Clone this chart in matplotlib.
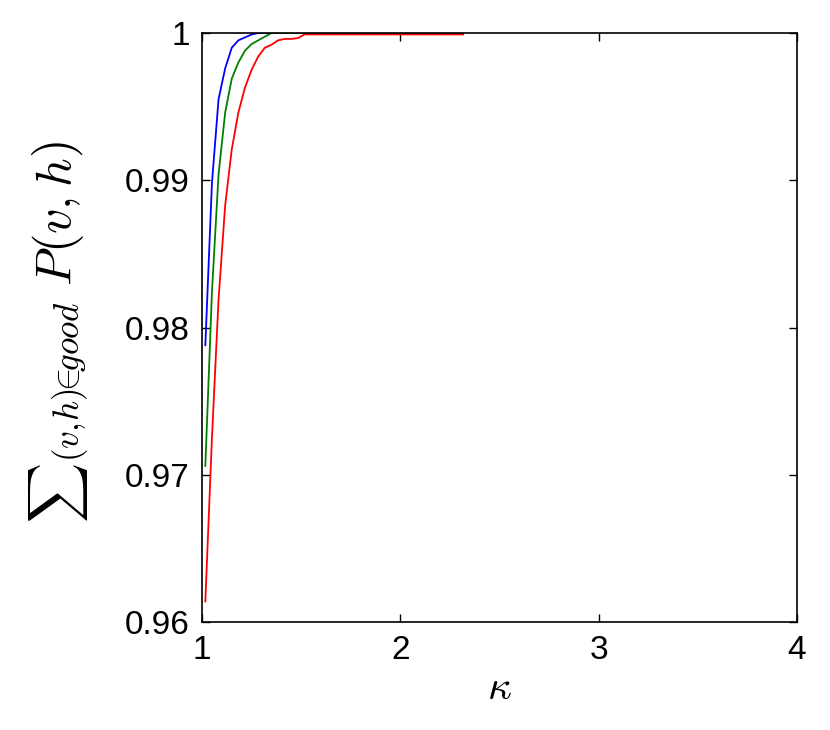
import matplotlib
matplotlib.use("Agg")
import matplotlib.pyplot as plt

# kappa sample points
kappa = [1.0167, 1.05, 1.0833, 1.1167, 1.15, 1.1833, 1.2167, 1.25, 1.2833, 1.3167,
         1.35, 1.3833, 1.4167, 1.45, 1.4833, 1.5167, 1.6, 1.8, 2.0, 2.2, 2.3167]

blue = [0.9788, 0.9898, 0.9955, 0.9976, 0.9990, 0.9995, 0.9997, 0.9999, 1.0, 1.0,
        1.0, 1.0, 1.0, 1.0, 1.0, 1.0, 1.0, 1.0, 1.0, 1.0, 1.0]
green = [0.9706, 0.9824, 0.9904, 0.9946, 0.9969, 0.9980, 0.9988, 0.99925, 0.9995, 0.99975,
         1.0, 1.0, 1.0, 1.0, 1.0, 1.0, 1.0, 1.0, 1.0, 1.0, 1.0]
red = [0.9614, 0.9725, 0.9819, 0.9883, 0.9921, 0.9946, 0.9963, 0.9975, 0.9984, 0.9990,
       0.9992, 0.9995, 0.9996, 0.9996, 0.99965, 0.9999, 0.9999, 0.9999, 0.9999, 0.9999, 0.9999]

xticks = [1, 2, 3, 4]
yticks = [0.96, 0.97, 0.98, 0.99, 1.0]
ytick_labels = ["0.96", "0.97", "0.98", "0.99", "1"]

plt.rcParams['font.family'] = ['Liberation Sans', 'DejaVu Sans']
plt.rcParams['mathtext.fontset'] = 'cm'

W, H = 830, 730
fig = plt.figure(figsize=(8.3, 7.3), dpi=100)
ax = fig.add_axes([0.2434, 0.1479, 0.7169, 0.8069])

ax.plot(kappa, blue, color=(0, 0, 1), lw=1.3)
ax.plot(kappa, green, color=(0, 0.5, 0), lw=1.3)
ax.plot(kappa, red, color=(1, 0, 0), lw=1.3)

ax.set_xlim(1, 4)
ax.set_ylim(0.96, 1.0)
ax.set_xticks(xticks)
ax.set_xticklabels([str(t) for t in xticks])
ax.set_yticks(yticks)
ax.set_yticklabels(ytick_labels)
ax.tick_params(direction='in', length=6, width=1, top=True, right=True,
               labelsize=24, pad=9)
for s in ax.spines.values():
    s.set_linewidth(1.2)

ax.set_xlabel(r'$\kappa$', fontsize=30, labelpad=2)

# y label: text-style sum followed by subscript and P(v,h)
sig = fig.text(58 / W, 1 - 523 / H, r'$\sum$', fontsize=30, rotation=90,
               rotation_mode='anchor', ha='left', va='center')
fig.canvas.draw()
bb = sig.get_window_extent()
rest = fig.text(71 / W, (bb.y1 - 1) / H, r'${}_{(v,\!h)\!\!\in\!\! good}\ P(v,h)$',
                fontsize=36, rotation=90, rotation_mode='anchor',
                ha='left', va='baseline')

fig.savefig('out.png', dpi=100)
